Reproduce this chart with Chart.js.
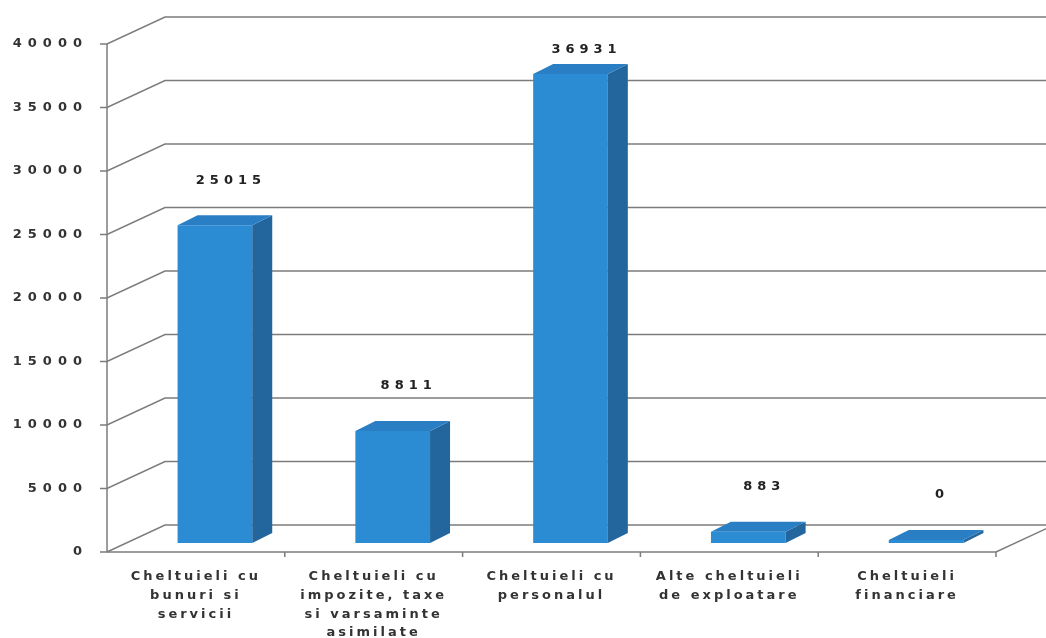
<!DOCTYPE html>
<html>
<head>
<meta charset="utf-8">
<script src="https://cdn.jsdelivr.net/npm/chart.js@4/dist/chart.umd.min.js"></script>
<style>
  html, body { margin: 0; padding: 0; background: #ffffff; }
  #wrap { width: 1046px; height: 638px; }
  canvas { display: block; }
</style>
</head>
<body>
<div id="wrap"><canvas id="c" width="1046" height="638"></canvas></div>
<script>
// ---- data ----
const categories = [
  ["Cheltuieli cu", "bunuri si", "servicii"],
  ["Cheltuieli cu", "impozite, taxe", "si varsaminte", "asimilate"],
  ["Cheltuieli cu", "personalul"],
  ["Alte cheltuieli", "de exploatare"],
  ["Cheltuieli", "financiare"]
];
const values = [25015, 8811, 36931, 883, 0];
const yMin = 0;
const yMax = 40000;
const yStep = 5000;

// ---- 3D look settings ----
const FRONT_DX = -19, FRONT_DY = 9;   // front plane relative to bar plane
const WALL_DX = 58, WALL_DY = -27;    // back wall relative to front plane
const BAR_DX = 20, BAR_DY = -10;      // bar depth
const GRID = '#7c7c7c';
const FONT = '"DejaVu Sans", Verdana, sans-serif';

const wallPlugin = {
  id: 'wall3d',
  beforeDraw(chart) {
    chart.ctx.letterSpacing = '3px';
  },
  afterLayout(chart) {
    const s = chart.scales.y;
    if (!s._lsPatched) {
      const orig = s.drawLabels;
      s.drawLabels = function (area) {
        const c = this.ctx;
        const prev = c.letterSpacing;
        c.letterSpacing = '6px';
        orig.call(this, area);
        c.letterSpacing = prev;
      };
      s._lsPatched = true;
    }
  },
  beforeDatasetsDraw(chart) {
    const ctx = chart.ctx;
    const ys = chart.scales.y;
    const area = chart.chartArea;
    const fl = area.left + FRONT_DX;
    const fr = area.right + FRONT_DX;
    ctx.save();
    ctx.strokeStyle = GRID;
    ctx.lineWidth = 1.5;
    for (const t of ys.ticks) {
      const fy = ys.getPixelForValue(t.value) + FRONT_DY;
      ctx.beginPath();
      ctx.moveTo(fl - 7, fy);
      ctx.lineTo(fl, fy);
      ctx.lineTo(fl + WALL_DX, fy + WALL_DY);
      ctx.lineTo(chart.width + 10, fy + WALL_DY);
      ctx.stroke();
    }
    const y0 = ys.getPixelForValue(yMin) + FRONT_DY;
    const y1 = ys.getPixelForValue(yMax) + FRONT_DY;
    ctx.beginPath();
    ctx.moveTo(fl, y1);
    ctx.lineTo(fl, y0);
    ctx.stroke();
    ctx.beginPath();
    ctx.moveTo(fl, y0);
    ctx.lineTo(fr, y0);
    ctx.lineTo(fr + WALL_DX, y0 + WALL_DY);
    ctx.stroke();
    const n = chart.data.labels.length;
    const step = (fr - fl) / n;
    for (let i = 1; i <= n; i++) {
      const x = fl + step * i;
      ctx.beginPath();
      ctx.moveTo(x, y0);
      ctx.lineTo(x, y0 + 5);
      ctx.stroke();
    }
    ctx.restore();
  },
  afterDatasetsDraw(chart) {
    const ctx = chart.ctx;
    const meta = chart.getDatasetMeta(0);
    const area = chart.chartArea;
    ctx.save();
    meta.data.forEach((bar, i) => {
      const p = bar.getProps(['x', 'y', 'base', 'width'], true);
      const l = p.x - p.width / 2, r = p.x + p.width / 2;
      let top = p.y, base = p.base;
      if (base - top < 3) { top = base - 3; ctx.fillStyle = '#2C8CD3'; ctx.fillRect(l, top, p.width, base - top); }
      ctx.fillStyle = '#23669E';
      ctx.beginPath();
      ctx.moveTo(r, top);
      ctx.lineTo(r + BAR_DX, top + BAR_DY);
      ctx.lineTo(r + BAR_DX, base + BAR_DY);
      ctx.lineTo(r, base);
      ctx.closePath();
      ctx.fill();
      ctx.fillStyle = '#2A7EC3';
      ctx.beginPath();
      ctx.moveTo(l, top);
      ctx.lineTo(l + BAR_DX, top + BAR_DY);
      ctx.lineTo(r + BAR_DX, top + BAR_DY);
      ctx.lineTo(r, top);
      ctx.closePath();
      ctx.fill();
      ctx.letterSpacing = '5px';
      ctx.fillStyle = '#222';
      ctx.font = 'bold 13px ' + FONT;
      ctx.textAlign = 'center';
      ctx.textBaseline = 'middle';
      const ly = Math.max(top - 45, area.top + 15);
      ctx.fillText(String(values[i]), p.x + 16, ly);
    });
    ctx.restore();
  }
};

new Chart(document.getElementById('c'), {
  type: 'bar',
  data: {
    labels: categories,
    datasets: [{
      data: values,
      backgroundColor: '#2C8CD3',
      borderWidth: 0,
      barPercentage: 1,
      categoryPercentage: 0.42
    }]
  },
  options: {
    responsive: false,
    animation: false,
    devicePixelRatio: 1,
    layout: { padding: { top: 35, right: 31, left: 0, bottom: 0 } },
    plugins: { legend: { display: false }, tooltip: { enabled: false } },
    scales: {
      x: {
        grid: { display: false, drawTicks: false },
        border: { display: false },
        ticks: {
          color: '#333',
          font: { family: FONT, size: 13, weight: 'bold', lineHeight: 1.45 },
          labelOffset: -19,
          padding: 24,
          maxRotation: 0,
          autoSkip: false
        },
        afterFit(s) { s.height = 95; s.paddingLeft = 0; s.paddingRight = 0; }
      },
      y: {
        min: yMin,
        max: yMax,
        grid: { display: false, drawTicks: false },
        border: { display: false },
        ticks: {
          stepSize: yStep,
          color: '#333',
          font: { family: FONT, size: 13, weight: 'bold' },
          padding: 38,
          labelOffset: 9,
          callback: (v) => String(v)
        },
        afterFit(s) { s.width = 126; s.paddingTop = 0; s.paddingBottom = 0; }
      }
    }
  },
  plugins: [wallPlugin]
});
</script>
</body>
</html>
